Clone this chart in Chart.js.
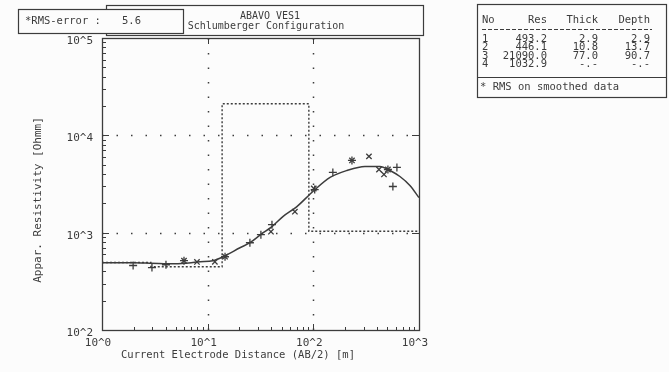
<!DOCTYPE html>
<html>
<head>
<meta charset="utf-8">
<script src="https://cdn.jsdelivr.net/npm/chart.js@4.4.1/dist/chart.umd.min.js"></script>
<style>
  html, body { margin: 0; padding: 0; background: #fcfcfc; }
</style>
</head>
<body>
<canvas id="vesChart" width="669" height="372"></canvas>
<script>
// layered model, as in the result table
const layerNo = [1, 2, 3, 4];
const layerRes = [493.2, 446.1, 21090.0, 1032.9];
const layerThick = [2.9, 10.8, 77.0];
const layerDepth = [2.9, 13.7, 90.7];

// computed sounding curve (AB/2 in m, rho_a in Ohmm)
const curveAB = [1, 2, 2.85, 4.9, 8.5, 11.2, 14.6, 20.2, 25.1, 32.6, 40.6, 51.5, 69.9, 99, 144, 208, 308, 427, 531, 660, 820, 998];
const curveRho = [491, 490, 486, 479, 502, 514, 579, 700, 788, 977, 1154, 1462, 1853, 2647, 3690, 4355, 4790, 4790, 4355, 3776, 3052, 2296];

// field data, "+" marks
const plusAB = [1.97, 2.97, 4.03, 5.97, 14.6, 25.1, 31.9, 40.6, 103, 153, 232, 508, 618, 566];
const plusRho = [460, 438, 468, 515, 566, 788, 953, 1208, 2773, 4159, 5522, 4455, 4677, 2979];

// field data, "x" marks
const crossAB = [5.97, 7.92, 11.7, 14.6, 39.7, 66.9, 101, 232, 336, 418, 466, 508];
const crossRho = [515, 500, 502, 566, 1023, 1644, 2844, 5522, 6081, 4455, 3963, 4455];

const xTicks = [1, 10, 100, 1000];
const yTicks = [100, 1000, 10000, 100000];

const rmsError = 5.6;
const titleLines = ["ABAVO VES1", "Schlumberger Configuration"];

const ink = "#3c3c3c";
const mono = "'DejaVu Sans Mono', 'Liberation Mono', monospace";

const toPoints = (xs, ys) => xs.map((v, i) => ({ x: v, y: ys[i] }));

// step line for the layer model
const stepData = [{ x: xTicks[0], y: layerRes[0] }];
layerDepth.forEach((d, i) => stepData.push({ x: d, y: layerRes[i + 1] }));
stepData.push({ x: xTicks[xTicks.length - 1], y: layerRes[layerRes.length - 1] });

const sheetPlugin = {
  id: "sheet",
  beforeDatasetsDraw(chart) {
    const { ctx, chartArea: a, scales: { x, y } } = chart;
    ctx.save();
    ctx.strokeStyle = ink;

    // dotted decade grid
    ctx.lineWidth = 1.5;
    ctx.setLineDash([1.5, 13]);
    xTicks.slice(1, -1).forEach((v) => {
      const px = Math.round(x.getPixelForValue(v)) + 0.5;
      ctx.beginPath(); ctx.moveTo(px, a.bottom); ctx.lineTo(px, a.top); ctx.stroke();
    });
    yTicks.slice(1, -1).forEach((v) => {
      const py = Math.round(y.getPixelForValue(v)) + 0.5;
      ctx.beginPath(); ctx.moveTo(a.left, py); ctx.lineTo(a.right, py); ctx.stroke();
    });
    ctx.setLineDash([]);

    // frame
    ctx.lineWidth = 1.3;
    ctx.strokeRect(a.left + 0.5, a.top + 0.5, a.right - a.left, a.bottom - a.top);

    // inward tick marks
    ctx.lineWidth = 1;
    for (let e = 0; e < 3; e++) {
      for (let m = 1; m < 10; m++) {
        const v = m * Math.pow(10, e);
        if (v <= 1) continue;
        const px = Math.round(x.getPixelForValue(v)) + 0.5;
        const len = m === 1 ? 6 : 3;
        ctx.beginPath(); ctx.moveTo(px, a.bottom); ctx.lineTo(px, a.bottom - len); ctx.stroke();
        if (m === 1) {
          ctx.beginPath(); ctx.moveTo(px, a.top); ctx.lineTo(px, a.top + len); ctx.stroke();
        }
      }
    }
    for (let e = 2; e < 5; e++) {
      for (let m = 1; m < 10; m++) {
        const v = m * Math.pow(10, e);
        if (v <= 100) continue;
        const py = Math.round(y.getPixelForValue(v)) + 0.5;
        const len = m === 1 ? 7 : 4;
        ctx.beginPath(); ctx.moveTo(a.left, py); ctx.lineTo(a.left + len, py); ctx.stroke();
        if (m === 1) {
          ctx.beginPath(); ctx.moveTo(a.right, py); ctx.lineTo(a.right - len, py); ctx.stroke();
        }
      }
    }
    ctx.restore();
  },
  afterDraw(chart) {
    const { ctx } = chart;
    ctx.save();
    ctx.fillStyle = ink;
    ctx.strokeStyle = ink;
    ctx.lineWidth = 1.2;
    ctx.textBaseline = "middle";

    // axis titles
    ctx.font = "10.5px " + mono;
    ctx.textAlign = "center";
    ctx.fillText("Current Electrode Distance (AB/2) [m]", 238, 355);
    ctx.save();
    ctx.translate(38, 200);
    ctx.rotate(-Math.PI / 2);
    ctx.font = "11px " + mono;
    ctx.fillText("Appar. Resistivity [Ohmm]", 0, 0);
    ctx.restore();

    // title box
    ctx.strokeRect(106.5, 5.5, 317, 30);
    ctx.font = "10px " + mono;
    ctx.fillText(titleLines[0], 270, 16);
    ctx.fillText(titleLines[1], 266, 26);

    // rms box
    ctx.fillStyle = "#fcfcfc";
    ctx.fillRect(18, 9, 165, 24);
    ctx.fillStyle = ink;
    ctx.strokeRect(18.5, 9.5, 165, 24);
    ctx.textAlign = "left";
    ctx.font = "10.5px " + mono;
    ctx.fillText("*RMS-error :", 25, 21);
    ctx.fillText(rmsError.toFixed(1), 122, 21);

    // result table
    ctx.strokeRect(477.5, 4.5, 189, 93);
    ctx.beginPath(); ctx.moveTo(477.5, 77.5); ctx.lineTo(666.5, 77.5); ctx.stroke();
    ctx.setLineDash([4, 2]);
    ctx.lineWidth = 1;
    ctx.beginPath(); ctx.moveTo(482, 29.5); ctx.lineTo(652, 29.5); ctx.stroke();
    ctx.setLineDash([]);

    const cols = [
      { head: "No", x: 482, align: "left", vals: layerNo.map(String) },
      { head: "Res", x: 547, align: "right", vals: layerRes.map((v) => v.toFixed(1)) },
      { head: "Thick", x: 598, align: "right", vals: layerThick.map((v) => v.toFixed(1)).concat("-.-") },
      { head: "Depth", x: 650, align: "right", vals: layerDepth.map((v) => v.toFixed(1)).concat("-.-") },
    ];
    const rowY = [39, 47.5, 56, 64.5];
    ctx.font = "10.5px " + mono;
    cols.forEach((c) => {
      ctx.textAlign = c.align;
      ctx.fillText(c.head, c.x, 20);
      c.vals.forEach((t, i) => ctx.fillText(t, c.x, rowY[i]));
    });
    ctx.textAlign = "left";
    ctx.fillText("* RMS on smoothed data", 480, 87);
    ctx.restore();
  },
};

new Chart(document.getElementById("vesChart"), {
  type: "scatter",
  data: {
    datasets: [
      {
        label: "model",
        type: "line",
        data: stepData,
        stepped: "before",
        borderColor: ink,
        borderWidth: 1.4,
        borderDash: [2, 2],
        pointRadius: 0,
        fill: false,
      },
      {
        label: "curve",
        type: "line",
        data: toPoints(curveAB, curveRho),
        cubicInterpolationMode: "monotone",
        borderColor: ink,
        borderWidth: 1.5,
        pointRadius: 0,
        fill: false,
      },
      {
        label: "data +",
        data: toPoints(plusAB, plusRho),
        pointStyle: "cross",
        pointRadius: 4,
        borderColor: ink,
        borderWidth: 1.3,
      },
      {
        label: "data x",
        data: toPoints(crossAB, crossRho),
        pointStyle: "crossRot",
        pointRadius: 3.8,
        borderColor: ink,
        borderWidth: 1.3,
      },
    ],
  },
  options: {
    responsive: false,
    animation: false,
    layout: { padding: { left: 0, right: 250, top: 38, bottom: 0 } },
    plugins: {
      legend: { display: false },
      tooltip: { enabled: false },
    },
    scales: {
      x: {
        type: "logarithmic",
        min: 1,
        max: 1000,
        afterBuildTicks: (scale) => {
          scale.ticks = xTicks.map((v) => ({ value: v, major: true }));
        },
        afterFit: (scale) => { scale.height = 42; },
        grid: { display: false, drawTicks: false },
        border: { display: false },
        ticks: {
          autoSkip: false,
          maxRotation: 0,
          padding: 7,
          labelOffset: -4,
          color: ink,
          font: { family: mono, size: 11 },
          callback: (v) => "10^" + Math.round(Math.log10(v)),
        },
      },
      y: {
        type: "logarithmic",
        min: 100,
        max: 100000,
        afterBuildTicks: (scale) => {
          scale.ticks = yTicks.map((v) => ({ value: v, major: true }));
        },
        afterFit: (scale) => { scale.width = 102; },
        grid: { display: false, drawTicks: false },
        border: { display: false },
        ticks: {
          autoSkip: false,
          padding: 9,
          labelOffset: 3,
          color: ink,
          font: { family: mono, size: 11 },
          callback: (v) => "10^" + Math.round(Math.log10(v)),
        },
      },
    },
  },
  plugins: [sheetPlugin],
});
</script>
</body>
</html>
